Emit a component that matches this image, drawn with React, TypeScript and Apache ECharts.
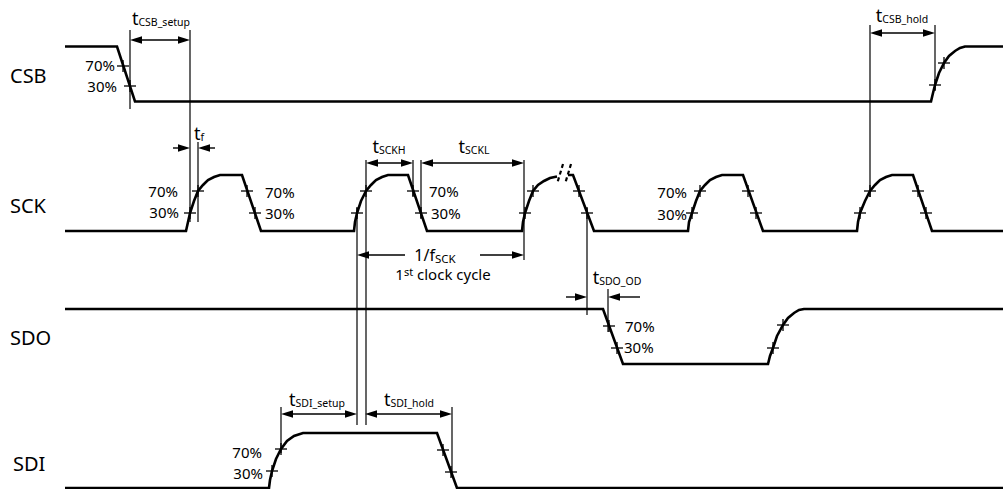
import React, { useEffect, useRef } from 'react';
import * as echarts from 'echarts';

const FONT = "'Noto Sans', sans-serif";

// Waveforms (x = time position, y = level position; diagram units)
const csbWave: (number[] | null)[] = [
  [65, 46.5], [117, 46.5], [135, 101.5], [931, 101.5], [933, 93], [935, 85], [939, 73], [944, 63],
  [949, 56], [955, 51], [960, 48], [965, 46.5], [1003, 46.5],
];
const sckWave: (number[] | null)[] = [
  [65, 231], [186, 231], [188, 222], [190, 213], [194, 201], [198, 191], [203, 185], [208, 180], [214, 177], [220, 175],
  [242, 175], [261, 231], [354, 231], [355, 222], [357, 213], [361, 201], [366, 191], [371, 185], [376, 180], [382, 177],
  [388, 175], [408, 175], [427, 231], [522, 231], [523, 222], [525, 213], [529, 201], [533, 191], [538, 185], [544, 181],
  [550, 178], [557, 176.5], null, [568, 175], [573, 175], [594, 231], [688, 231], [689, 222], [692, 213], [696, 201],
  [700, 191], [705, 185], [710, 180], [716, 177], [722, 175], [743, 175], [763, 231], [857, 231], [858, 222], [860, 213],
  [865, 201], [870, 191], [875, 185], [880, 180], [886, 177], [892, 175], [913, 175], [932, 231], [1003, 231],
];
const sdoWave: (number[] | null)[] = [
  [65, 309], [603, 309], [623, 364], [768, 364], [770, 356], [773, 348], [777, 336], [783, 325], [788, 318],
  [794, 313], [799, 310], [804, 309], [1003, 309],
];
const sdiWave: (number[] | null)[] = [
  [65, 488], [269, 488], [270, 480], [272, 471], [276, 459], [281, 449], [287, 441], [294, 436], [303, 433],
  [437, 433], [457, 488], [1003, 488],
];

// 30% / 70% crossing marks
const crossPoints: number[][] = [
  [123, 66], [130, 86], [935, 85], [944, 63],
  [190, 213], [198, 191], [247, 191], [255, 213],
  [357, 213], [366, 191], [413, 191], [421, 213],
  [525, 213], [533, 191], [579, 191], [587, 213],
  [692, 213], [700, 191], [748, 191], [756, 213],
  [860, 213], [870, 191], [918, 191], [926, 213],
  [609, 326], [617, 348], [773, 348], [783, 325],
  [272, 471], [281, 449], [443, 450], [451, 472],
];

// Vertical reference lines [x, yStart, yEnd]
const refLines: number[][] = [
  [130, 30, 109], [190, 30, 222], [198, 142, 222], [366, 160, 425], [413, 160, 196], [421, 160, 218],
  [524, 160, 260], [357, 208, 425], [587, 208, 315], [608, 289, 332], [870, 25, 197], [935, 25, 90],
  [281, 407, 453], [452, 407, 477],
];

// Double-headed dimension arrows [x1, x2, y]
const doubleArrows: number[][] = [
  [130, 190, 40], [366, 413, 163], [421, 524, 163], [870, 935, 33], [281, 357, 414], [365, 452, 414],
];
// Single arrows [xFrom, xTo(head), y]
const singleArrows: number[][] = [
  [173, 190, 148], [215, 198, 148], [566, 587, 297], [640, 608, 297], [405, 357, 255], [480, 524, 255],
];
// Break marks on SCK [x1, y1, x2, y2]
const breakMarks: number[][] = [
  [563, 164, 557, 184], [571, 164, 565, 184],
];

// Timing parameter labels
const timingMain = ['t', 't', 't', 't', 't', 't', 't', 't', '1/f'];
const timingSub = ['CSB_setup', 'CSB_hold', 'f', 'SCKH', 'SCKL', 'SDO_OD', 'SDI_setup', 'SDI_hold', 'SCK'];
const timingPos: number[][] = [
  [161, 18], [902, 15], [199, 133], [389, 146], [474, 146], [617, 277], [317, 399], [409, 399], [435, 255],
];

// Percent labels [x, y]
const pctText = ['70%', '30%', '70%', '30%', '70%', '30%', '70%', '30%', '70%', '30%', '70%', '30%', '70%', '30%'];
const pctAlign = ['right', 'right', 'right', 'right', 'left', 'left', 'left', 'left', 'right', 'right', 'left', 'left', 'right', 'right'];
const pctPos: number[][] = [
  [115, 65], [117, 86], [178, 191], [179, 212], [265, 192], [265, 213], [429, 191], [431, 213],
  [687, 192], [687, 214], [625, 326], [624, 347], [262, 452], [263, 473],
];

const signalNames = ['CSB', 'SCK', 'SDO', 'SDI'];
const signalPos: number[][] = [[10, 75], [10, 205], [10, 337], [13, 463]];

const cyclePos = [443, 274];

function waveSeries(data: (number[] | null)[]) {
  return {
    type: 'line',
    data: data.map((d) => (d ? d : [null, null])),
    symbol: 'none',
    connectNulls: false,
    clip: false,
    silent: true,
    lineStyle: { color: '#000', width: 2.6, cap: 'butt', join: 'miter' },
    z: 5,
  };
}

function arrowHead(tipX: number, tipY: number, dir: number) {
  const L = 12;
  const w = 3.8;
  return {
    type: 'polygon',
    shape: { points: [[tipX, tipY], [tipX - dir * L, tipY - w], [tipX - dir * L, tipY + w]] },
    style: { fill: '#000' },
  };
}

export default function App() {
  const ref = useRef<HTMLDivElement>(null);
  useEffect(() => {
    const chart = echarts.init(ref.current!, null, { renderer: 'svg' });
    const option: any = {
      animation: false,
      backgroundColor: '#fff',
      grid: { left: 0, right: 0, top: 0, bottom: 0 },
      xAxis: { type: 'value', min: 0, max: 1003, show: false },
      yAxis: { type: 'value', min: 0, max: 489, inverse: true, show: false },
      series: [
        waveSeries(csbWave),
        waveSeries(sckWave),
        waveSeries(sdoWave),
        waveSeries(sdiWave),
        {
          type: 'custom',
          silent: true,
          clip: false,
          z: 6,
          data: crossPoints,
          encode: { x: 0, y: 1 },
          renderItem: (params: any, api: any) => {
            const p = api.coord([api.value(0), api.value(1)]);
            const st = { stroke: '#000', lineWidth: 1.3 };
            return {
              type: 'group',
              children: [
                { type: 'line', shape: { x1: p[0] - 6, y1: p[1], x2: p[0] + 6, y2: p[1] }, style: st },
                { type: 'line', shape: { x1: p[0], y1: p[1] - 6, x2: p[0], y2: p[1] + 6 }, style: st },
              ],
            };
          },
        },
        {
          type: 'custom',
          silent: true,
          clip: false,
          z: 3,
          data: refLines,
          encode: { x: 0, y: [1, 2] },
          renderItem: (params: any, api: any) => {
            const a = api.coord([api.value(0), api.value(1)]);
            const b = api.coord([api.value(0), api.value(2)]);
            return { type: 'line', shape: { x1: a[0], y1: a[1], x2: b[0], y2: b[1] }, style: { stroke: '#000', lineWidth: 1.2 } };
          },
        },
        {
          type: 'custom',
          silent: true,
          clip: false,
          z: 3,
          data: doubleArrows,
          encode: { x: [0, 1], y: 2 },
          renderItem: (params: any, api: any) => {
            const a = api.coord([api.value(0), api.value(2)]);
            const b = api.coord([api.value(1), api.value(2)]);
            return {
              type: 'group',
              children: [
                { type: 'line', shape: { x1: a[0] + 4, y1: a[1], x2: b[0] - 4, y2: b[1] }, style: { stroke: '#000', lineWidth: 1.4 } },
                arrowHead(a[0], a[1], -1),
                arrowHead(b[0], b[1], 1),
              ],
            };
          },
        },
        {
          type: 'custom',
          silent: true,
          clip: false,
          z: 3,
          data: singleArrows,
          encode: { x: [0, 1], y: 2 },
          renderItem: (params: any, api: any) => {
            const a = api.coord([api.value(0), api.value(2)]);
            const b = api.coord([api.value(1), api.value(2)]);
            const dir = b[0] > a[0] ? 1 : -1;
            return {
              type: 'group',
              children: [
                { type: 'line', shape: { x1: a[0], y1: a[1], x2: b[0] - dir * 4, y2: b[1] }, style: { stroke: '#000', lineWidth: 1.4 } },
                arrowHead(b[0], b[1], dir),
              ],
            };
          },
        },
        {
          type: 'custom',
          silent: true,
          clip: false,
          z: 6,
          data: breakMarks,
          encode: { x: [0, 2], y: [1, 3] },
          renderItem: (params: any, api: any) => {
            const a = api.coord([api.value(0), api.value(1)]);
            const b = api.coord([api.value(2), api.value(3)]);
            return {
              type: 'line',
              shape: { x1: a[0], y1: a[1], x2: b[0], y2: b[1] },
              style: { stroke: '#000', lineWidth: 2.2, lineDash: [4, 3] },
            };
          },
        },
        {
          type: 'custom',
          silent: true,
          clip: false,
          z: 7,
          data: timingPos,
          encode: { x: 0, y: 1 },
          renderItem: (params: any, api: any) => {
            const i = params.dataIndex;
            const p = api.coord([api.value(0), api.value(1)]);
            const isF = timingMain[i] !== 't';
            return {
              type: 'text',
              x: p[0],
              y: p[1],
              style: {
                text: '{m|' + timingMain[i] + '}{s|' + timingSub[i] + '}',
                align: 'center',
                verticalAlign: 'middle',
                fill: '#000',
                rich: {
                  m: { fontFamily: FONT, fontSize: isF ? 16 : 18, lineHeight: 18, verticalAlign: 'middle', fill: '#000' },
                  s: { fontFamily: FONT, fontSize: isF ? 11.5 : 10.5, lineHeight: 10, verticalAlign: 'bottom', fill: '#000' },
                },
              },
            };
          },
        },
        {
          type: 'custom',
          silent: true,
          clip: false,
          z: 7,
          data: pctPos,
          encode: { x: 0, y: 1 },
          renderItem: (params: any, api: any) => {
            const i = params.dataIndex;
            const p = api.coord([api.value(0), api.value(1)]);
            return {
              type: 'text',
              x: p[0],
              y: p[1],
              style: { text: pctText[i], align: pctAlign[i], verticalAlign: 'middle', fill: '#000', fontFamily: FONT, fontSize: 15 },
            };
          },
        },
        {
          type: 'custom',
          silent: true,
          clip: false,
          z: 7,
          data: signalPos,
          encode: { x: 0, y: 1 },
          renderItem: (params: any, api: any) => {
            const i = params.dataIndex;
            const p = api.coord([api.value(0), api.value(1)]);
            return {
              type: 'text',
              x: p[0],
              y: p[1],
              style: { text: signalNames[i], align: 'left', verticalAlign: 'middle', fill: '#000', fontFamily: FONT, fontSize: 20 },
            };
          },
        },
        {
          type: 'custom',
          silent: true,
          clip: false,
          z: 7,
          data: [cyclePos],
          encode: { x: 0, y: 1 },
          renderItem: (params: any, api: any) => {
            const p = api.coord([api.value(0), api.value(1)]);
            return {
              type: 'text',
              x: p[0],
              y: p[1],
              style: {
                text: '{n|1}{u|st}{n| clock cycle}',
                align: 'center',
                verticalAlign: 'middle',
                fill: '#000',
                rich: {
                  n: { fontFamily: FONT, fontSize: 15, lineHeight: 16, verticalAlign: 'middle', fill: '#000' },
                  u: { fontFamily: FONT, fontSize: 11, lineHeight: 10, verticalAlign: 'top', fill: '#000' },
                },
              },
            };
          },
        },
      ],
    };
    chart.setOption(option);
    return () => chart.dispose();
  }, []);
  return (
    <div
      ref={ref}
      style={{ position: 'fixed', left: 0, top: 0, width: 1003, height: 489, background: '#fff' }}
    />
  );
}
